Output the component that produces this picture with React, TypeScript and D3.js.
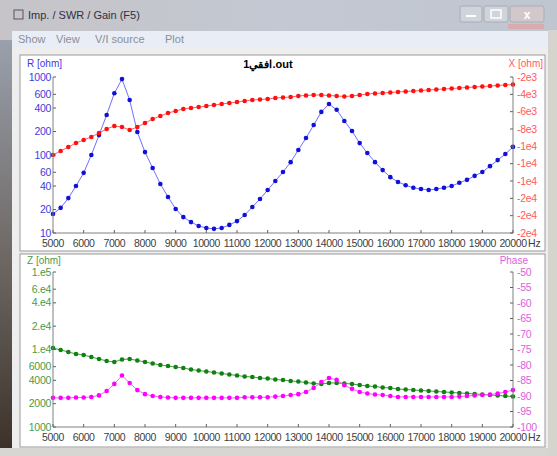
import * as d3 from "d3";

// sweep frequencies, Hz
const freqs = [
  5000, 5250, 5500, 5750, 6000, 6250, 6500, 6750, 7000, 7250, 7500, 7750, 8000, 8250, 8500, 8750,
  9000, 9250, 9500, 9750, 10000, 10250, 10500, 10750, 11000, 11250, 11500, 11750, 12000, 12250,
  12500, 12750, 13000, 13250, 13500, 13750, 14000, 14250, 14500, 14750, 15000, 15250, 15500,
  15750, 16000, 16250, 16500, 16750, 17000, 17250, 17500, 17750, 18000, 18250, 18500, 18750,
  19000, 19250, 19500, 19750, 20000,
];

// R [ohm]
const resist = [
  17.5, 21, 28, 40, 59, 100, 180, 326, 620, 940, 507, 197, 109, 68, 42.5, 29, 20.3, 16, 13.8,
  12.3, 11.6, 11.3, 11.6, 12.7, 14.2, 17, 21.5, 27.3, 35.6, 46.5, 60.5, 81, 116, 165, 242, 357,
  450, 380, 273, 203, 142, 106, 81, 64, 52, 45, 41, 38, 36.6, 35.6, 36.6, 38, 40, 44, 48, 54,
  60.5, 72, 86, 103, 127,
];

// X [ohm]
const react = [
  -11000, -10540, -10080, -9620, -9270, -8920, -8460, -8000, -7650, -7770, -8120, -7770, -7310,
  -6850, -6500, -6150, -5920, -5690, -5580, -5460, -5350, -5230, -5120, -5000, -4890, -4770,
  -4650, -4600, -4540, -4420, -4370, -4310, -4190, -4130, -4080, -4080, -4130, -4190, -4250,
  -4190, -4080, -3960, -3900, -3850, -3790, -3730, -3670, -3620, -3560, -3500, -3440, -3380,
  -3330, -3270, -3210, -3150, -3100, -3040, -2980, -2920, -2870,
];

// |Z| [ohm]
const imped = [
  10460, 9860, 9290, 8750, 8490, 8000, 7540, 7110, 6900, 7430, 7540, 7210, 6900, 6600, 6310,
  6120, 5940, 5770, 5520, 5360, 5200, 5050, 4900, 4760, 4620, 4480, 4420, 4290, 4230, 4100,
  4040, 3920, 3860, 3750, 3640, 3590, 3700, 3700, 3640, 3590, 3480, 3380, 3330, 3230, 3190,
  3090, 3050, 3000, 2960, 2920, 2870, 2830, 2790, 2750, 2710, 2670, 2630, 2590, 2550, 2510, 2470,
];

// phase [deg]
const phase = [
  -90.6, -90.6, -90.6, -90.5, -90.5, -90.3, -89.8, -88.4, -86.1, -83.4, -85.8, -88.1, -89.4,
  -90.0, -90.3, -90.5, -90.6, -90.6, -90.6, -90.6, -90.6, -90.6, -90.6, -90.6, -90.6, -90.4,
  -90.4, -90.4, -90.4, -90.2, -90.0, -89.7, -89.4, -88.7, -87.4, -85.5, -84.2, -84.8, -86.5,
  -87.7, -88.7, -89.2, -89.5, -89.7, -90.0, -90.3, -90.3, -90.3, -90.3, -90.3, -90.3, -90.3,
  -90.3, -90.2, -90.0, -89.8, -89.7, -89.5, -89.2, -88.7, -88.1,
];

const freqTicks = [
  5000, 6000, 7000, 8000, 9000, 10000, 11000, 12000, 13000, 14000, 15000, 16000, 17000, 18000,
  19000, 20000,
];
const rTicks = [1000, 600, 400, 200, 100, 60, 40, 20, 10];
const xTicks = [-2000, -4000, -6000, -8000, -10000, -12000, -14000, -16000, -18000, -20000];
const zTicks = [100000, 60000, 40000, 20000, 10000, 6000, 4000, 2000, 1000];
const zLabels = ["1.e5", "6.e4", "4.e4", "2.e4", "1.e4", "6000", "4000", "2000", "1000"];
const phTicks = [-50, -55, -60, -65, -70, -75, -80, -85, -90, -95, -100];
const menuItems = ["Show", "View", "V/I source", "Plot"];

const L = 53;
const R = 513;
const top1 = 77;
const bot1 = 233;
const top2 = 272;
const bot2 = 427;
const font = "'Liberation Sans', Arial, sans-serif";

const x = d3.scaleLinear().domain([5000, 20000]).range([L, R]);
const yR = d3.scaleLog().domain([10, 1000]).range([bot1, top1]);
const yX = d3.scaleLinear().domain([-20000, -2000]).range([bot1, top1]);
const yZ = d3.scaleLog().domain([1000, 100000]).range([bot2, top2]);
const yP = d3.scaleLinear().domain([-100, -50]).range([bot2, top2]);

const fmtExp = (v: number) => v.toExponential(0).replace("+", "");

function Series({
  values,
  y,
  line,
  dot,
}: {
  values: number[];
  y: (v: number) => number;
  line: string;
  dot: string;
}) {
  const pts = freqs.map((f, i) => [x(f), y(values[i])] as [number, number]);
  const path = d3.line()(pts) ?? "";
  return (
    <g>
      <path d={path} fill="none" stroke={line} strokeWidth={1} />
      {pts.map((p, i) => (
        <circle key={i} cx={p[0]} cy={p[1]} r={2.3} fill={dot} />
      ))}
    </g>
  );
}

function XAxis({ bottom, top }: { bottom: number; top: number }) {
  return (
    <g>
      <line x1={L} x2={R} y1={bottom} y2={bottom} stroke="#808080" />
      <line x1={L} x2={L} y1={top} y2={bottom} stroke="#808080" />
      <line x1={R} x2={R} y1={top} y2={bottom} stroke="#808080" />
      {freqTicks.map((t) => (
        <g key={t}>
          <line x1={x(t)} x2={x(t)} y1={bottom} y2={bottom - 3} stroke="#606060" />
          <text
            x={x(t)}
            y={bottom + 14}
            fontSize={10.5}
            fill="#404040"
            textAnchor="middle"
            letterSpacing={-0.4}
          >
            {t}
          </text>
        </g>
      ))}
      <text x={x(20000) + 15} y={bottom + 14} fontSize={10.5} fill="#404040">
        Hz
      </text>
    </g>
  );
}

function LeftAxis({
  ticks,
  labels,
  y,
  color,
}: {
  ticks: number[];
  labels: string[];
  y: (v: number) => number;
  color: string;
}) {
  return (
    <g>
      {ticks.map((t, i) => (
        <g key={t}>
          <line x1={L} x2={L + 3} y1={y(t)} y2={y(t)} stroke="#606060" />
          <text x={L - 2} y={y(t) + 3.5} fontSize={10.5} fill={color} textAnchor="end" letterSpacing={-0.3}>
            {labels[i]}
          </text>
        </g>
      ))}
    </g>
  );
}

function RightAxis({
  ticks,
  labels,
  y,
  color,
}: {
  ticks: number[];
  labels: string[];
  y: (v: number) => number;
  color: string;
}) {
  return (
    <g>
      {ticks.map((t, i) => (
        <g key={t}>
          <line x1={R - 3} x2={R} y1={y(t)} y2={y(t)} stroke="#606060" />
          <text x={R + 4} y={y(t) + 3.5} fontSize={10.5} fill={color} letterSpacing={-0.3}>
            {labels[i]}
          </text>
        </g>
      ))}
    </g>
  );
}

export default function App() {
  return (
    <div style={{ position: "absolute", left: 0, top: 0 }}>
      <svg width={557} height={456} style={{ display: "block", fontFamily: font }}>
        <defs>
          <linearGradient id="frame" x1="0" y1="0" x2="1" y2="0">
            <stop offset="0" stopColor="#c6c4c8" />
            <stop offset="0.5" stopColor="#c3c8d2" />
            <stop offset="1" stopColor="#c0c6d0" />
          </linearGradient>
          <linearGradient id="dark" x1="0" y1="0" x2="0" y2="1">
            <stop offset="0" stopColor="#9aa0ac" />
            <stop offset="0.55" stopColor="#6b6560" />
            <stop offset="1" stopColor="#3a3028" />
          </linearGradient>
        </defs>

        {/* window frame */}
        <rect x={0} y={0} width={557} height={456} fill="url(#frame)" />
        <rect x={0} y={40} width={13} height={416} fill="url(#dark)" />
        <rect x={0} y={448} width={557} height={8} fill="#d8d6d2" />
        <rect x={548} y={30} width={9} height={426} fill="#d6d4cf" />

        {/* title bar */}
        <rect x={14} y={10} width={9} height={9} fill="none" stroke="#556" strokeWidth={1} />
        <text x={28} y={19} fontSize={11} fill="#303040">
          Imp. / SWR / Gain  (F5)
        </text>
        <rect x={460} y={6} width={22} height={16} fill="#cfd3da" stroke="#a8adb6" rx={2} />
        <line x1={466} x2={476} y1={16} y2={16} stroke="#fff" strokeWidth={2} />
        <rect x={484} y={6} width={24} height={16} fill="#cfd3da" stroke="#a8adb6" rx={2} />
        <rect x={491} y={10} width={10} height={8} fill="none" stroke="#fff" strokeWidth={1.5} />
        <rect x={510} y={6} width={34} height={16} fill="#d2c8cc" stroke="#a8adb6" rx={2} />
        <text x={527} y={19} fontSize={12} fill="#fff" textAnchor="middle" fontWeight="bold">
          x
        </text>
        <rect x={508} y={24} width={36} height={5} fill="#e89a98" opacity={0.6} />

        {/* menu bar */}
        <rect x={12} y={31} width={536} height={17} fill="#e8edf6" />
        {menuItems.map((m, i) => (
          <text key={m} x={[18, 56, 95, 165][i]} y={43} fontSize={11} fill="#8a8f98">
            {m}
          </text>
        ))}

        {/* client area */}
        <rect x={12} y={48} width={536} height={400} fill="#eeeeee" />
        <rect x={20} y={55} width={525} height={196} fill="#ffffff" stroke="#9a9a9a" />
        <rect x={20} y={254} width={525} height={193} fill="#ffffff" stroke="#9a9a9a" />

        {/* top chart */}
        <Series values={resist} y={yR} line="#7070ff" dot="#1010d8" />
        <Series values={react} y={yX} line="#ff6060" dot="#ff1010" />
        <XAxis bottom={bot1} top={top1} />
        <LeftAxis ticks={rTicks} labels={rTicks.map(String)} y={yR} color="#3c3ce0" />
        <RightAxis ticks={xTicks} labels={xTicks.map(fmtExp)} y={yX} color="#ff5a5a" />
        <text x={27} y={67} fontSize={10} fill="#3c3ce0">
          R [ohm]
        </text>
        <text x={543} y={67} fontSize={10} fill="#ff5a5a" textAnchor="end">
          X [ohm]
        </text>
        <text x={268} y={68} fontSize={11} fontWeight="bold" fill="#000" textAnchor="middle">
          افقي1.out
        </text>

        {/* bottom chart */}
        <Series values={imped} y={yZ} line="#40a040" dot="#108010" />
        <Series values={phase} y={yP} line="#ff60ff" dot="#ff00ff" />
        <XAxis bottom={bot2} top={top2} />
        <LeftAxis ticks={zTicks} labels={zLabels} y={yZ} color="#4a9a4a" />
        <RightAxis ticks={phTicks} labels={phTicks.map(String)} y={yP} color="#e060e0" />
        <text x={27} y={264} fontSize={10} fill="#4a9a4a">
          Z [ohm]
        </text>
        <text x={528} y={264} fontSize={10} fill="#e060e0" textAnchor="end">
          Phase
        </text>
      </svg>
    </div>
  );
}
